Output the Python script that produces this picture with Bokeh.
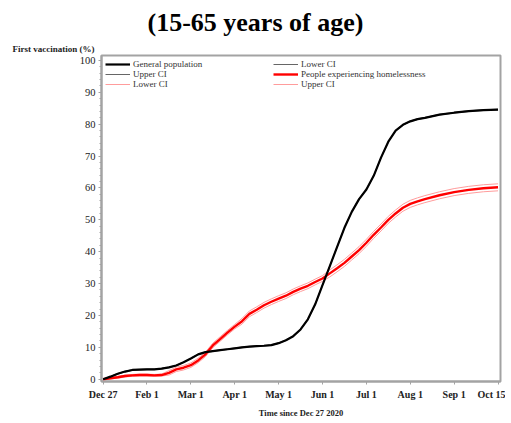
from bokeh.plotting import figure
from bokeh.models import Range1d, FixedTicker, Legend, LegendItem, Title
from bokeh.embed import file_html
from bokeh.resources import INLINE

# ---- data (days since Dec 27 2020) ----
days = [0, 5, 10, 15, 20, 25, 30, 35, 40, 45, 50, 55, 60, 65, 70, 75, 80, 85, 90, 95,
        100, 105, 110, 115, 120, 125, 130, 135, 140, 145, 150, 155, 160, 165, 170, 175,
        180, 185, 190, 195, 200, 205, 210, 215, 220, 230, 240, 250, 260, 270]

gen_pop = [0, 0.8, 1.7, 2.4, 2.9, 3.0, 3.1, 3.1, 3.3, 3.7, 4.3, 5.3, 6.5, 7.8, 8.5, 8.8,
           9.1, 9.4, 9.7, 10.0, 10.2, 10.4, 10.5, 10.7, 11.3, 12.2, 13.5, 15.6, 18.8, 23.5,
           29.5, 35.5, 41.5, 47.5, 52.5, 56.5, 59.5, 63.8, 69.5, 74.5, 78.0, 79.8, 80.9,
           81.6, 82.0, 83.0, 83.6, 84.1, 84.4, 84.6]
gen_lower = [0, 0.7, 1.6, 2.3, 2.8, 2.9, 3.0, 3.0, 3.2, 3.6, 4.2, 5.2, 6.4, 7.7, 8.4, 8.7,
             9.0, 9.3, 9.6, 9.9, 10.1, 10.3, 10.4, 10.6, 11.2, 12.1, 13.4, 15.5, 18.7, 23.4,
             29.4, 35.4, 41.4, 47.4, 52.4, 56.4, 59.4, 63.7, 69.4, 74.4, 77.9, 79.7, 80.8,
             81.5, 81.9, 82.9, 83.5, 84.0, 84.3, 84.5]
gen_upper = [0, 0.9, 1.8, 2.5, 3.0, 3.1, 3.2, 3.2, 3.4, 3.8, 4.4, 5.4, 6.6, 7.9, 8.6, 8.9,
             9.2, 9.5, 9.8, 10.1, 10.3, 10.5, 10.6, 10.8, 11.4, 12.3, 13.6, 15.7, 18.9, 23.6,
             29.6, 35.6, 41.6, 47.6, 52.6, 56.6, 59.6, 63.9, 69.6, 74.6, 78.1, 79.9, 81.0,
             81.7, 82.1, 83.1, 83.7, 84.2, 84.5, 84.7]

homeless = [0, 0.3, 0.6, 1.0, 1.2, 1.3, 1.3, 1.2, 1.3, 2.0, 3.1, 3.6, 4.4, 5.9, 7.8, 10.6,
            12.6, 14.6, 16.5, 18.2, 20.5, 21.8, 23.2, 24.3, 25.3, 26.2, 27.4, 28.4, 29.3,
            30.5, 31.6, 33.2, 34.8, 36.5, 38.5, 40.5, 42.8, 45.3, 47.6, 50.0, 52.0, 53.8,
            55.0, 55.8, 56.5, 57.7, 58.7, 59.4, 59.9, 60.2]
hom_lower = [0, 0.1, 0.3, 0.7, 0.9, 1.0, 1.0, 0.9, 1.0, 1.3, 2.4, 2.9, 3.7, 5.2, 7.1, 9.9,
             11.9, 13.9, 15.8, 17.3, 19.6, 20.9, 22.3, 23.4, 24.4, 25.3, 26.5, 27.5, 28.4,
             29.6, 30.7, 32.1, 33.7, 35.4, 37.4, 39.4, 41.7, 44.2, 46.5, 48.9, 50.9, 52.7,
             53.9, 54.7, 55.4, 56.6, 57.6, 58.3, 58.8, 59.1]
hom_upper = [0, 0.5, 0.9, 1.3, 1.5, 1.6, 1.6, 1.5, 1.6, 2.7, 3.8, 4.3, 5.1, 6.6, 8.5, 11.3,
             13.3, 15.3, 17.2, 19.1, 21.4, 22.7, 24.1, 25.2, 26.2, 27.1, 28.3, 29.3, 30.2,
             31.4, 32.5, 34.3, 35.9, 37.6, 39.6, 41.6, 43.9, 46.4, 48.7, 51.1, 53.1, 54.9,
             56.1, 56.9, 57.6, 58.8, 59.8, 60.5, 61.0, 61.3]

x_ticks = [0, 30, 60, 90, 120, 150, 180, 210, 240, 270]
x_tick_labels = ["Dec 27", "Feb 1", "Mar 1", "Apr 1", "May 1", "Jun 1", "Jul 1",
                 "Aug 1", "Sep 1", "Oct 15"]
y_ticks = [0, 10, 20, 30, 40, 50, 60, 70, 80, 90, 100]

SERIF = "Liberation Serif"
GREY = "#a3a3a3"

p = figure(width=505, height=420, x_range=Range1d(-1.1, 271.7),
           y_range=Range1d(-0.72, 101.55), output_backend="svg",
           toolbar_location=None, title_location=None,
           min_border_left=101, min_border_right=5,
           min_border_top=55, min_border_bottom=36)
p.grid.visible = False
p.outline_line_color = GREY
p.outline_line_width = 2
p.background_fill_color = "white"
p.border_fill_color = "white"

for ax in (p.xaxis[0], p.yaxis[0]):
    ax.axis_line_color = GREY
    ax.axis_line_width = 2
    ax.major_tick_line_color = GREY
    ax.minor_tick_line_color = GREY
    ax.major_tick_out = 3
    ax.major_tick_in = 0
    ax.major_label_text_font = SERIF
    ax.major_label_text_color = "#222222"

p.xaxis.ticker = FixedTicker(ticks=x_ticks)
p.xaxis.major_label_overrides = {t: l for t, l in zip(x_ticks, x_tick_labels)}
p.xaxis.major_label_text_font_style = "bold"
p.xaxis.major_label_text_font_size = "10px"
p.xaxis.minor_tick_line_color = None
p.xaxis.major_label_standoff = 4
p.xaxis.axis_label = "Time since Dec 27 2020"
p.xaxis.axis_label_text_font = SERIF
p.xaxis.axis_label_text_font_style = "bold"
p.xaxis.axis_label_text_font_size = "8.5px"
p.xaxis.axis_label_text_color = "#222222"
p.xaxis.axis_label_standoff = 5

p.yaxis.ticker = FixedTicker(ticks=y_ticks, minor_ticks=[v for v in range(0, 101, 2)])
p.yaxis.major_label_text_font_size = "10.5px"
p.yaxis.minor_tick_out = 2
p.yaxis.minor_tick_in = 0
p.yaxis.major_label_standoff = 3

r_gl = p.line(days, gen_lower, line_color="#666666", line_width=1)
r_gu = p.line(days, gen_upper, line_color="#666666", line_width=1)
r_hl = p.line(days, hom_lower, line_color="#ff9c9c", line_width=1)
r_hu = p.line(days, hom_upper, line_color="#ff9c9c", line_width=1)
r_hom = p.line(days, homeless, line_color="#ff0000", line_width=2.4)
r_gen = p.line(days, gen_pop, line_color="black", line_width=2.2)

def make_legend(items, loc):
    return Legend(items=items, location=loc, orientation="vertical",
                  padding=0, margin=0, spacing=0, label_height=10, glyph_height=10,
                  glyph_width=25, label_standoff=3, border_line_alpha=0,
                  background_fill_alpha=0, label_text_font=SERIF,
                  label_text_font_size="9px", label_text_color="#333333")

lg1 = make_legend([LegendItem(label="General population", renderers=[r_gen]),
                   LegendItem(label="Upper CI", renderers=[r_gu]),
                   LegendItem(label="Lower CI", renderers=[r_hl])], (4, 292))
lg2 = make_legend([LegendItem(label="Lower CI", renderers=[r_gl]),
                   LegendItem(label="People experiencing homelessness", renderers=[r_hom]),
                   LegendItem(label="Upper CI", renderers=[r_hu])], (172, 292))
p.add_layout(lg1)
p.add_layout(lg2)

# closest to the frame first
p.add_layout(Title(text="First vaccination (%)", align="left", offset=-89,
                   text_font=SERIF, text_font_style="bold", text_font_size="9px",
                   text_color="#222222", standoff=4), "above")
p.add_layout(Title(text="(15-65 years of age)", align="left", offset=46,
                   text_font=SERIF, text_font_style="bold", text_font_size="26px",
                   text_color="black", standoff=6), "above")

open("out.html", "w").write(file_html(p, INLINE))
